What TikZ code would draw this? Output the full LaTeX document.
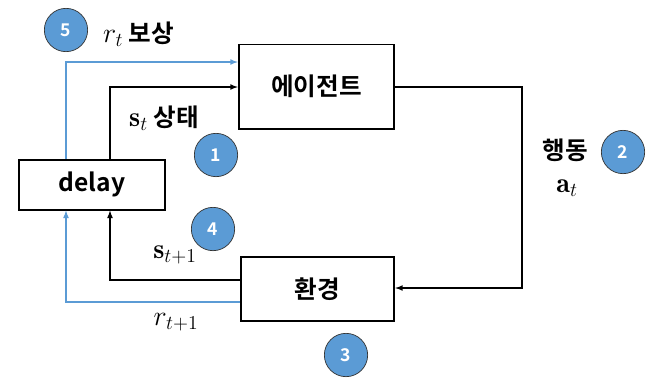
\RequirePackage{fix-cm}
\documentclass[tikz,border=0pt]{standalone}
\usepackage{fontspec}
\newfontfamily\kr{Noto Sans CJK KR}[BoldFont={Noto Sans CJK KR Bold}]
\usetikzlibrary{positioning}
\definecolor{stepblue}{HTML}{5B9BD5}
\definecolor{rewardblue}{HTML}{5B9BD5}
\newcommand{\sigmath}[1]{{\fontsize{24}{28}\selectfont$#1$}}

\begin{document}
\begin{tikzpicture}[x=0.03cm,y=-0.03cm,>=latex,
    block/.style={draw,line width=1.7pt,inner sep=0pt,font=\kr\bfseries\fontsize{21}{24}\selectfont},
    badge/.style={circle,draw=black!80,line width=0.6pt,fill=stepblue,text=white,
      minimum size=1.3cm,inner sep=0pt,font=\kr\bfseries\fontsize{15}{17}\selectfont},
    sig/.style={line width=1.2pt},
    rew/.style={line width=1.2pt,rewardblue},
    lbl/.style={inner sep=0pt,font=\kr\bfseries\fontsize{21}{24}\selectfont}]
  \useasboundingbox (0,0) rectangle (657,387);
  % blocks
  \node[block,minimum width=4.66cm,minimum height=2.52cm] (agent) at (316.5,86.5) {에이전트};
  \node[block,minimum width=4.4cm,minimum height=1.5cm] (delay) at (92,184.5) {delay};
  \node[block,minimum width=4.6cm,minimum height=1.92cm] (env) at (317.5,289) {환경};
  % turning points
  \coordinate (rtop) at (66,62);
  \coordinate (stop) at (110,87);
  \coordinate (aright) at (522,288);
  \coordinate (sbot) at (110,280);
  \coordinate (rbot) at (66,302);
  % connectors
  \draw[rew,->] (delay.north -| rtop) |- (agent.west |- rtop);
  \draw[sig,->] (delay.north -| stop) |- (agent.west |- stop);
  \draw[sig,->] (agent.east |- stop) -| (aright) -- (env.east |- aright);
  \draw[sig,->] (env.west |- sbot) -| (delay.south -| sbot);
  \draw[rew,->] (env.west |- rbot) -| (delay.south -| rbot);
  % labels
  \node[lbl,anchor=west] (lr) at (103,34) {\sigmath{r_t} 보상};
  \node[lbl,anchor=west] (ls) at (129,118) {\sigmath{\mathbf{s}_t} 상태};
  \node[lbl] (la) at (565,150) {행동};
  \node[lbl] (lat) at (567,188) {\sigmath{\mathbf{a}_t}};
  \node[lbl] (ls1) at (175,255) {\sigmath{\mathbf{s}_{t+1}}};
  \node[lbl] (lr1) at (176,322) {\sigmath{r_{t+1}}};
  % step badges
  \node[badge] (n5) at (66,30) {5};
  \node[badge] (n1) at (216,155) {1};
  \node[badge] (n2) at (623,152) {2};
  \node[badge] (n4) at (213,229) {4};
  \node[badge] (n3) at (346,355) {3};
\end{tikzpicture}
\end{document}
